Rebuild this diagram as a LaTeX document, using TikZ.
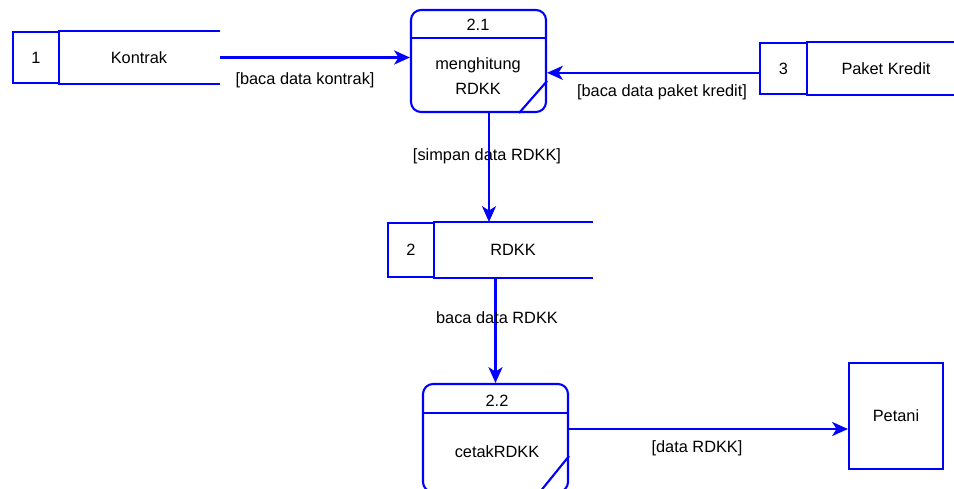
\documentclass[tikz,border=0pt]{standalone}
\usepackage{fontspec}
\setmainfont{Liberation Sans}
\usetikzlibrary{arrows.meta}

\begin{document}
\begin{tikzpicture}[x=0.02cm,y=-0.02cm,line width=1.2pt,
    every node/.style={font=\fontsize{9.3}{14}\selectfont},
    box/.style={draw=blue,inner sep=0pt},
    store/.style={inner sep=0pt},
    proc/.style={draw=blue,rounded corners=2mm,inner sep=0pt},
    lbl/.style={inner sep=0pt,align=center},
    flow/.style={draw=blue,-{Stealth[length=9pt,width=8pt,inset=2.5pt]}}]
  \useasboundingbox (0,0) rectangle (954,489);
  \clip (0,0) rectangle (954,489);
  % stores
  \node [box,minimum width=0.92cm,minimum height=1.02cm] (n1) at (36,57.5) {1};
  \node [store,minimum width=3.2cm,minimum height=1.02cm] (s1) at (139,57.5) {Kontrak};
  \node [box,minimum width=0.92cm,minimum height=1.08cm] (n2) at (411,250) {2};
  \node [store,minimum width=3.16cm,minimum height=1.08cm] (s2) at (513,250) {RDKK};
  \node [box,minimum width=0.94cm,minimum height=1.02cm] (n3) at (783.5,68.5) {3};
  \node [store,minimum width=3.16cm,minimum height=1.02cm] (s3) at (886,68.5) {Paket Kredit};
  \foreach \s in {s1,s2,s3}
    \draw [blue] (\s.north west) -- (\s.north east) (\s.south west) -- (\s.south east);
  % processes
  \node [proc,minimum width=2.7cm,minimum height=2.04cm] (p1) at (478.5,61) {};
  \path (p1.north west) ++(0,29) coordinate (h1);
  \draw [blue] (h1) -- (h1 -| p1.east);
  \draw [blue] (p1.south east) ++(0,-32) -- ++(-28,32);
  \node [lbl] (p1n) at (478,25) {2.1};
  \node [lbl] (p1t) at (478,76) {menghitung\\RDKK};
  \node [proc,minimum width=2.9cm,minimum height=2.16cm] (p2) at (495.5,438) {};
  \path (p2.north west) ++(0,30) coordinate (h2);
  \draw [blue] (h2) -- (h2 -| p2.east);
  \draw [blue] (p2.south east) ++(0,-37) -- ++(-30,37);
  \node [lbl] (p2n) at (497,401) {2.2};
  \node [lbl] (p2t) at (497,452) {cetakRDKK};
  % entity
  \node [box,minimum width=1.88cm,minimum height=2.12cm] (pt) at (896,416) {Petani};
  % flows
  \coordinate (c1) at (489,0);
  \coordinate (c3) at (0,429);
  \draw [flow] (s1.east) -- (p1.west |- s1.east);
  \draw [flow] (n3.190) -- (p1.east |- n3.190);
  \draw [flow] (p1.south -| c1) -- (s2.north -| c1);
  \draw [flow] (s2.south -| p2.north) -- (p2.north);
  \draw [flow] (p2.east |- c3) -- (pt.west |- c3);
  \node [lbl] (l1) at (305,80) {[baca data kontrak]};
  \node [lbl] (l2) at (662,92) {[baca data paket kredit]};
  \node [lbl] (l3) at (487,156) {[simpan data RDKK]};
  \node [lbl] (l4) at (497,318) {baca data RDKK};
  \node [lbl] (l5) at (697,448) {[data RDKK]};
\end{tikzpicture}
\end{document}
